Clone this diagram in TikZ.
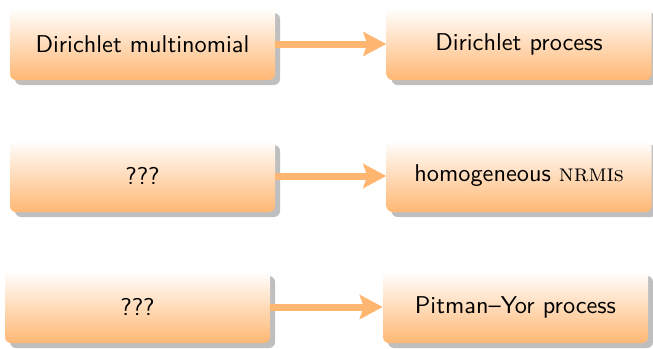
\documentclass[tikz,border=0pt]{standalone}
\usepackage{fontspec}
\usepackage{graphicx}
\usetikzlibrary{shadows,arrows.meta}
\definecolor{boxorange}{RGB}{255,183,115}
\definecolor{arrorange}{RGB}{255,182,112}
\newcommand{\bigtext}[1]{\scalebox{2.43}{#1}}
\tikzset{
  box/.style={rectangle, rounded corners=6pt, minimum width=265pt, minimum height=72pt,
    top color=white, bottom color=boxorange, draw=none,
    drop shadow={shadow xshift=5pt, shadow yshift=-5pt, fill=black!25, opacity=1},
    font=\normalsize\sffamily, text=black},
  conn/.style={draw=arrorange, fill=arrorange, line width=7pt,
    -{Stealth[length=23pt,width=24pt,inset=4pt]}}
}
\begin{document}
\begin{tikzpicture}[x=1pt,y=-1pt]
\useasboundingbox (0,0) rectangle (653,348);
\node[box] (a1) at (142.5,44) {\bigtext{Dirichlet multinomial}};
\node[box] (b1) at (519,44) {\bigtext{Dirichlet process}};
\node[box] (a2) at (142.5,176) {\bigtext{???}};
\node[box] (b2) at (519,176) {\bigtext{homogeneous \textrm{\textsc{nrmi}s}}};
\node[box] (a3) at (137.5,307) {\bigtext{???}};
\node[box] (b3) at (515.5,307) {\bigtext{Pitman--Yor process}};
\draw[conn] (a1.east) -- (b1.west);
\draw[conn] (a2.east) -- (b2.west);
\draw[conn] (a3.east) -- (b3.west);
\end{tikzpicture}
\end{document}
